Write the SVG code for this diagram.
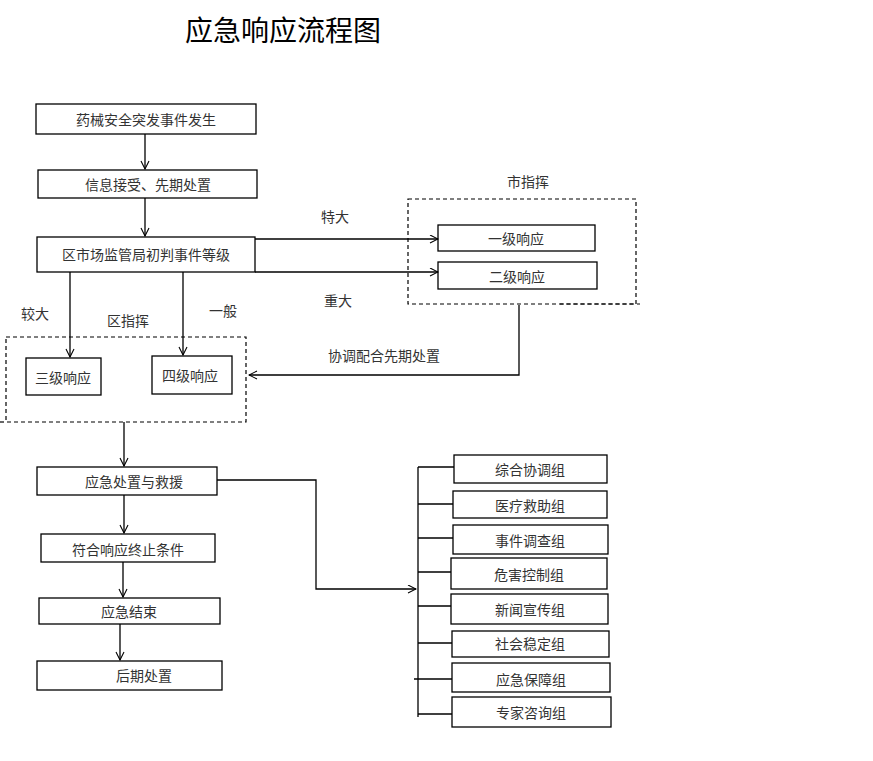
<svg xmlns="http://www.w3.org/2000/svg" width="873" height="761" viewBox="0 0 873 761">
<style>
.b{fill:#fff;stroke:#000;stroke-width:1.3}
.t{font-family:"Noto Sans CJK SC","Liberation Sans",sans-serif;font-size:14px;fill:#333;text-anchor:middle;dominant-baseline:central}
.c{fill:none;stroke:#000;stroke-width:1.3}
.a{fill:none;stroke:#000;stroke-width:1.3;marker-end:url(#arr)}
.d{fill:none;stroke:#000;stroke-width:1.2;stroke-dasharray:4,3}
</style>
<defs>
<marker id="arr" markerUnits="userSpaceOnUse" markerWidth="10" markerHeight="10" refX="9" refY="4.5" orient="auto">
<path d="M1,0.5 L9,4.5 L1,8.5" fill="none" stroke="#000" stroke-width="1.1"/>
</marker>
</defs>
<rect width="873" height="761" fill="#fff"/>
<text x="283" y="29" font-family="Noto Sans CJK SC,sans-serif" font-size="28" fill="#000" text-anchor="middle" dominant-baseline="central">应急响应流程图</text>

<g id="zone-city">
<rect class="d" x="408" y="199" width="228" height="105"/>
<line class="d" x1="560" y1="304" x2="640" y2="304"/>
<text class="t" x="528" y="181">市指挥</text>
</g>
<g id="zone-district">
<rect class="d" x="6" y="337" width="240" height="85"/>
<line class="d" x1="0" y1="422" x2="6" y2="422"/>
<text class="t" x="128" y="320">区指挥</text>
</g>

<g id="n1"><rect class="b" x="36" y="104" width="220" height="30"/><text class="t" x="146" y="119">药械安全突发事件发生</text></g>
<g id="n2"><rect class="b" x="38" y="170" width="219" height="28"/><text class="t" x="148" y="184">信息接受、先期处置</text></g>
<g id="n3"><rect class="b" x="37" y="237" width="218" height="35"/><text class="t" x="146" y="254">区市场监管局初判事件等级</text></g>
<g id="n-l1"><rect class="b" x="438" y="225" width="157" height="26"/><text class="t" x="516" y="238">一级响应</text></g>
<g id="n-l2"><rect class="b" x="438" y="262" width="159" height="27"/><text class="t" x="517" y="276">二级响应</text></g>
<g id="n-l3"><rect class="b" x="26" y="358" width="75" height="37"/><text class="t" x="63" y="377">三级响应</text></g>
<g id="n-l4"><rect class="b" x="152" y="356" width="80" height="38"/><text class="t" x="190" y="375">四级响应</text></g>
<g id="n4"><rect class="b" x="37" y="467" width="180" height="28"/><text class="t" x="134" y="481">应急处置与救援</text></g>
<g id="n5"><rect class="b" x="41" y="534" width="174" height="28"/><text class="t" x="128" y="549">符合响应终止条件</text></g>
<g id="n6"><rect class="b" x="39" y="598" width="181" height="26"/><text class="t" x="129" y="611">应急结束</text></g>
<g id="n7"><rect class="b" x="37" y="661" width="185" height="29"/><text class="t" x="144" y="675">后期处置</text></g>

<g id="g1"><rect class="b" x="454" y="455" width="153" height="28"/><text class="t" x="530" y="469">综合协调组</text></g>
<g id="g2"><rect class="b" x="453" y="491" width="154" height="27"/><text class="t" x="530" y="505">医疗救助组</text></g>
<g id="g3"><rect class="b" x="453" y="525" width="155" height="29"/><text class="t" x="530" y="540">事件调查组</text></g>
<g id="g4"><rect class="b" x="451" y="558" width="156" height="31"/><text class="t" x="529" y="574">危害控制组</text></g>
<g id="g5"><rect class="b" x="451" y="594" width="157" height="30"/><text class="t" x="530" y="609">新闻宣传组</text></g>
<g id="g6"><rect class="b" x="452" y="631" width="157" height="26"/><text class="t" x="530" y="643">社会稳定组</text></g>
<g id="g7"><rect class="b" x="452" y="663" width="158" height="29"/><text class="t" x="531" y="679">应急保障组</text></g>
<g id="g8"><rect class="b" x="452" y="697" width="159" height="30"/><text class="t" x="531" y="712">专家咨询组</text></g>

<g id="connectors">
<line class="a" x1="145" y1="134" x2="145" y2="169"/>
<line class="a" x1="145" y1="198" x2="145" y2="236"/>
<line class="a" x1="255" y1="239" x2="438" y2="239"/>
<line class="a" x1="255" y1="272" x2="438" y2="272"/>
<line class="a" x1="70" y1="272" x2="70" y2="357"/>
<line class="a" x1="183" y1="272" x2="183" y2="355"/>
<polyline class="a" points="519,305 519,375 249,375"/>
<line class="a" x1="124" y1="422" x2="124" y2="466"/>
<line class="a" x1="124" y1="495" x2="124" y2="533"/>
<line class="a" x1="123" y1="562" x2="123" y2="597"/>
<line class="a" x1="120" y1="624" x2="120" y2="660"/>
<polyline class="a" points="217,480 316,480 316,589 416,589"/>
<line class="c" x1="418" y1="467" x2="418" y2="717"/>
<line class="c" x1="418" y1="467" x2="454" y2="467"/>
<line class="c" x1="418" y1="504" x2="453" y2="504"/>
<line class="c" x1="418" y1="538" x2="453" y2="538"/>
<line class="c" x1="418" y1="572" x2="451" y2="572"/>
<line class="c" x1="418" y1="606" x2="451" y2="606"/>
<line class="c" x1="418" y1="643" x2="452" y2="643"/>
<line class="c" x1="414" y1="679" x2="452" y2="679"/>
<line class="c" x1="418" y1="714" x2="452" y2="714"/>
</g>

<g id="labels">
<text class="t" x="335" y="216">特大</text>
<text class="t" x="338" y="300">重大</text>
<text class="t" x="35" y="313">较大</text>
<text class="t" x="223" y="310">一般</text>
<text class="t" x="384" y="355">协调配合先期处置</text>
</g>
</svg>
